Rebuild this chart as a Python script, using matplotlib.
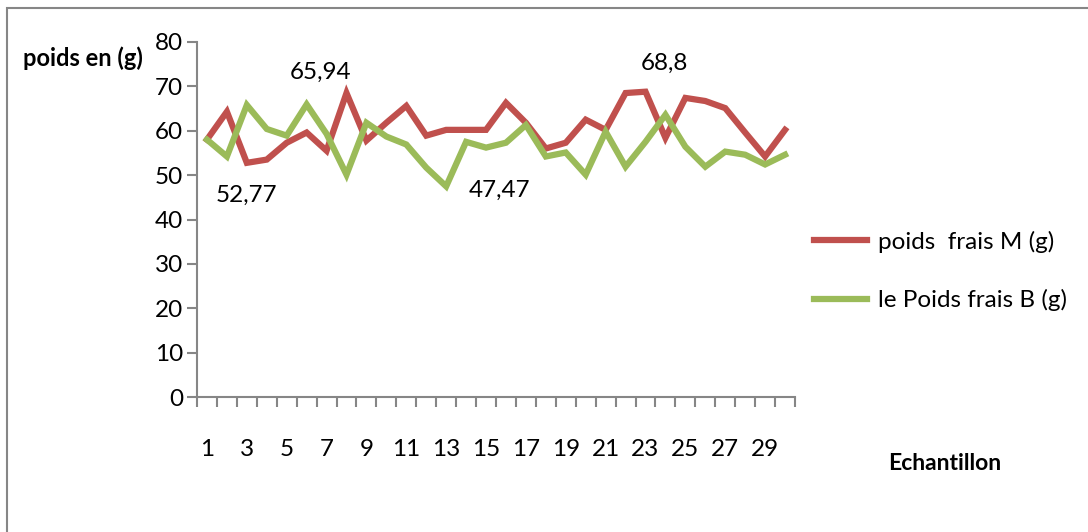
import matplotlib
matplotlib.use("Agg")
import matplotlib.pyplot as plt
from matplotlib.patches import Rectangle

plt.rcParams['font.family'] = ['Lato', 'DejaVu Sans']

# --- data ---
echantillons = list(range(1, 31))
poids_M = [58.0, 64.3, 52.77, 53.5, 57.3, 59.6, 55.5, 68.5, 57.8, 61.8,
           65.6, 58.9, 60.2, 60.2, 60.2, 66.3, 61.8, 56.0, 57.3, 62.5,
           60.2, 68.5, 68.8, 58.4, 67.4, 66.7, 65.1, 59.6, 54.2, 60.2]
poids_B = [58.0, 54.2, 65.8, 60.4, 58.9, 65.94, 59.3, 50.1, 61.8, 58.7,
           56.9, 51.7, 47.47, 57.5, 56.2, 57.3, 61.3, 54.2, 55.1, 50.1,
           59.8, 51.9, 57.5, 63.6, 56.4, 51.9, 55.3, 54.6, 52.4, 54.6]
label_M = "poids  frais M (g)"
label_B = "le Poids frais B (g)"
yticks = [0, 10, 20, 30, 40, 50, 60, 70, 80]
xlabels_shown = list(range(1, 30, 2))

RED = "#C0504D"
GREEN = "#9BBB59"
GRAY = "#868686"
FS = 17.5

fig = plt.figure(figsize=(10.88, 5.32), dpi=100)
ax = fig.add_axes([197 / 1088, 1 - 397 / 532, 598 / 1088, 355 / 532])

ax.plot(echantillons, poids_M, color=RED, lw=4.5, label=label_M, solid_joinstyle="miter")
ax.plot(echantillons, poids_B, color=GREEN, lw=4.5, label=label_B, solid_joinstyle="miter")

ax.set_xlim(0.5, 30.5)
ax.set_ylim(0, 80)

for s in ["top", "right"]:
    ax.spines[s].set_visible(False)
for s in ["left", "bottom"]:
    ax.spines[s].set_color(GRAY)
    ax.spines[s].set_linewidth(1.5)

ax.set_yticks(yticks)
ax.tick_params(axis="y", direction="out", length=7, width=1.5, color=GRAY,
               labelsize=FS, pad=3)

# category ticks between samples, labels on odd samples
ax.set_xticks([x + 0.5 for x in [0] + echantillons], minor=True)
ax.set_xticks(xlabels_shown)
ax.set_xticklabels([str(v) for v in xlabels_shown])
ax.tick_params(axis="x", which="minor", direction="out", length=7, width=1.5, color=GRAY)
ax.tick_params(axis="x", which="major", length=0, labelsize=FS, pad=30)

# data labels
ax.text(3, 45.5, f"{poids_M[2]:.2f}".replace(".", ","), ha="center", va="center", fontsize=FS)
ax.text(6.7, 73.2, f"{poids_B[5]:.2f}".replace(".", ","), ha="center", va="center", fontsize=FS)
ax.text(15.7, 46.6, f"{poids_B[12]:.2f}".replace(".", ","), ha="center", va="center", fontsize=FS)
ax.text(23.95, 75.2, f"{poids_M[22]:g}".replace(".", ","), ha="center", va="center", fontsize=FS)

ax.legend(loc="center left", bbox_to_anchor=(814 / 1088, 1 - 271 / 532),
          bbox_transform=fig.transFigure, frameon=False, fontsize=FS,
          handlelength=2.2, handletextpad=0.45, labelspacing=1.5,
          borderpad=0, borderaxespad=0)

fig.text(83 / 1088, 1 - 58 / 532, "poids en (g)", ha="center", va="center",
         fontsize=17, fontweight="bold")
fig.text(945 / 1088, 1 - 463 / 532, "Echantillon", ha="center", va="center",
         fontsize=16.5, fontweight="bold")

# outer chart border (only top and left visible in the crop)
fig.patches.append(Rectangle((7 / 1088, -0.2), 1.2, 1.2 - 8 / 532,
                             transform=fig.transFigure, fill=False,
                             edgecolor=GRAY, lw=1.5))

fig.savefig("out.png", dpi=100)
